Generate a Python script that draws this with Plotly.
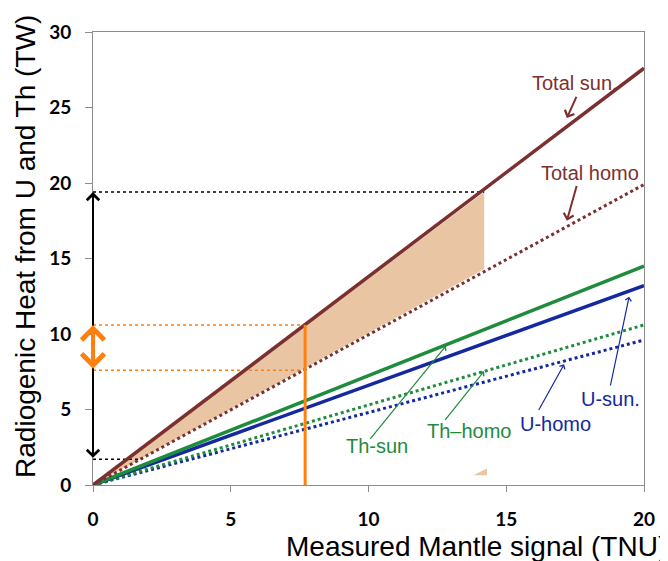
import plotly.graph_objects as go

# ---- data ----
x_ends = [0, 20]
total_sun = [0, 27.6]
total_homo = [0, 19.9]
th_sun = [0, 14.5]
u_sun = [0, 13.2]
th_homo = [0, 10.6]
u_homo = [0, 9.6]

fill_x = [0, 14.2, 14.2, 0]
fill_y = [0, 19.4, 14.3, 0]

# small stray shaded sliver near the x axis
sliver_x = [13.8, 14.3, 14.3, 13.8]
sliver_y = [0.65, 1.1, 0.65, 0.65]

heat_max = 19.4
heat_min = 1.7
heat_min_x = 1.8
x_max_fill = 14.2
measured = 7.7
meas_hi = 10.6
meas_lo = 7.6

BROWN = "#7b3030"
GREEN = "#1e8c3c"
BLUE = "#1428a0"
ORANGE = "#ff7f10"
TAN = "#e9c5a3"
FONT = "Liberation Sans"

fig = go.Figure()

# shaded region between total lines
fig.add_trace(go.Scatter(x=fill_x, y=fill_y, fill="toself", fillcolor=TAN,
                         line=dict(width=0), mode="lines", hoverinfo="skip"))
fig.add_trace(go.Scatter(x=sliver_x, y=sliver_y, fill="toself", fillcolor=TAN,
                         line=dict(width=0), mode="lines", hoverinfo="skip"))

# dotted guide lines
fig.add_trace(go.Scatter(x=[0, x_max_fill], y=[heat_max, heat_max], mode="lines",
                         line=dict(color="black", width=1.5, dash="dot")))
fig.add_trace(go.Scatter(x=[0, heat_min_x], y=[heat_min, heat_min], mode="lines",
                         line=dict(color="black", width=1.5, dash="dot")))
fig.add_trace(go.Scatter(x=[0, measured], y=[meas_hi, meas_hi], mode="lines",
                         line=dict(color=ORANGE, width=1.5, dash="dot")))
fig.add_trace(go.Scatter(x=[0, measured], y=[meas_lo, meas_lo], mode="lines",
                         line=dict(color=ORANGE, width=1.5, dash="dot")))

# model lines
fig.add_trace(go.Scatter(x=x_ends, y=u_homo, mode="lines", line=dict(color=BLUE, width=3, dash="dot")))
fig.add_trace(go.Scatter(x=x_ends, y=th_homo, mode="lines", line=dict(color=GREEN, width=3, dash="dot")))
fig.add_trace(go.Scatter(x=x_ends, y=u_sun, mode="lines", line=dict(color=BLUE, width=3.5)))
fig.add_trace(go.Scatter(x=x_ends, y=th_sun, mode="lines", line=dict(color=GREEN, width=3.5)))
fig.add_trace(go.Scatter(x=x_ends, y=total_homo, mode="lines", line=dict(color=BROWN, width=3, dash="dot")))
fig.add_trace(go.Scatter(x=x_ends, y=total_sun, mode="lines", line=dict(color=BROWN, width=3.5)))

# orange measured line
fig.add_trace(go.Scatter(x=[measured, measured], y=[0, meas_hi], mode="lines",
                         line=dict(color=ORANGE, width=3)))

ann = []
# double arrows on the axis
ann.append(dict(x=0, y=heat_max, ax=0, ay=heat_min, xref="x", yref="y", axref="x", ayref="y",
                text="", showarrow=True, arrowhead=4, startarrowhead=4, arrowside="end+start",
                arrowwidth=2, arrowsize=1.2, startarrowsize=1.2, arrowcolor="black"))
ann.append(dict(x=0, y=meas_hi, ax=0, ay=meas_lo, xref="x", yref="y", axref="x", ayref="y",
                text="", showarrow=True, arrowhead=4, startarrowhead=4, arrowside="end+start",
                arrowwidth=4, arrowsize=1.1, startarrowsize=1.1, arrowcolor=ORANGE))

# labels with arrows: (text, text_x, text_y, tail_x, tail_y, head_x, head_y, color)
labels = [
    ("Total sun.", 17.5, 26.6, 17.57, 25.8, 17.2, 24.3, BROWN),
    ("Total homo", 18.05, 20.65, 17.57, 19.9, 17.2, 17.5, BROWN),
    ("Th-sun", 10.3, 2.6, 10.02, 2.95, 12.81, 9.22, GREEN),
    ("Th\u2013homo", 13.65, 3.57, 12.74, 4.22, 14.19, 7.53, GREEN),
    ("U-homo", 16.77, 4.03, 16.15, 4.87, 17.1, 7.99, BLUE),
    ("U-sun.", 18.8, 5.71, 18.77, 6.49, 19.46, 12.47, BLUE),
]
for t, tx, ty, ax_, ay_, hx, hy, c in labels:
    ann.append(dict(x=tx, y=ty, xref="x", yref="y", text=t, showarrow=False,
                    font=dict(family=FONT, size=20, color=c)))
    ann.append(dict(x=hx, y=hy, ax=ax_, ay=ay_, xref="x", yref="y", axref="x", ayref="y",
                    text="", showarrow=True, arrowhead=4, arrowsize=1,
                    arrowwidth=2 if c == BROWN else 1.2, arrowcolor=c))

# axis titles
ann.append(dict(x=1.046, y=-0.136, xref="paper", yref="paper", xanchor="right", yanchor="middle",
                text="Measured Mantle signal (TNU)", showarrow=False,
                font=dict(family=FONT, size=28, color="black")))
ann.append(dict(x=-0.123, y=0.526, xref="paper", yref="paper", xanchor="center", yanchor="middle",
                text="Radiogenic Heat from U and Th (TW)", textangle=-90, showarrow=False,
                font=dict(family=FONT, size=28, color="black")))

fig.update_layout(
    width=660, height=553,
    margin=dict(l=85, r=24, t=15, b=76),
    paper_bgcolor="white", plot_bgcolor="white",
    showlegend=False,
    annotations=ann,
    xaxis=dict(range=[0, 20], tickvals=[0, 5, 10, 15, 20], showgrid=False, zeroline=False,
               showline=True, linecolor="#8c8c8c", linewidth=1, mirror=True,
               ticks="outside", ticklen=6, tickcolor="#8c8c8c",
               ticklabelstandoff=11,
               tickfont=dict(family="Lato", size=19, color="black", weight="bold")),
    yaxis=dict(range=[0, 30], tickvals=[0, 5, 10, 15, 20, 25, 30], showgrid=False, zeroline=False,
               showline=True, linecolor="#8c8c8c", linewidth=1, mirror=True,
               ticks="outside", ticklen=7, tickcolor="#8c8c8c",
               ticklabelstandoff=10,
               tickfont=dict(family="Lato", size=19, color="black", weight="bold")),
)

fig.write_html("out.html")
